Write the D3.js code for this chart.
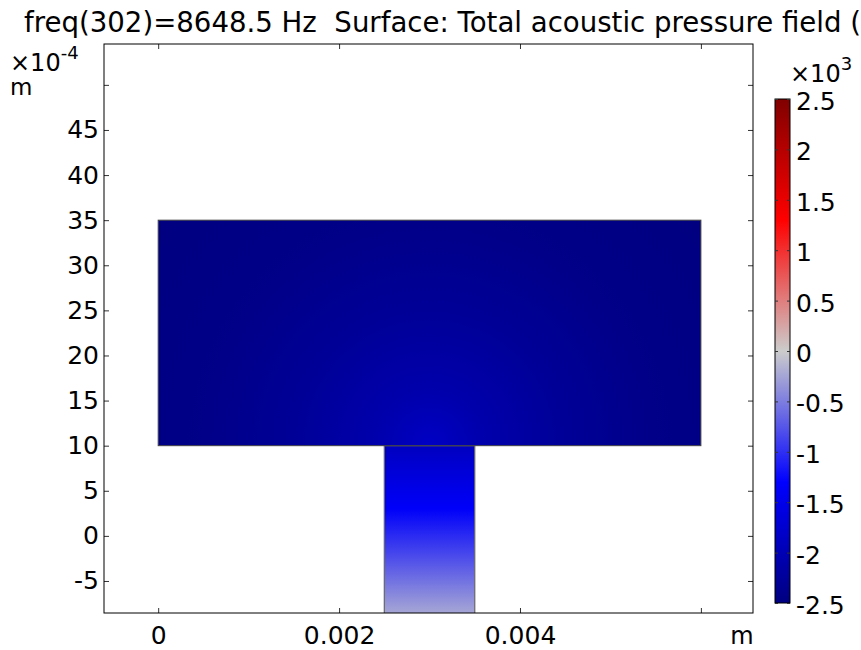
<!DOCTYPE html>
<html>
<head>
<meta charset="utf-8">
<script src="https://cdn.jsdelivr.net/npm/d3@7"></script>
<style>
  body { margin: 0; background: #fff; }
  text { font-family: "DejaVu Sans", sans-serif; fill: #000; }
</style>
</head>
<body>
<div id="canvas"></div>
<script>
// Titulo y ejes
const title = "freq(302)=8648.5 Hz  Surface: Total acoustic pressure field (Pa)";
const xTicks = [0, 0.002, 0.004, 0.006];
const xTickLabels = ["0", "0.002", "0.004", ""];
const yTicks = [-0.0005, 0, 0.0005, 0.001, 0.0015, 0.002, 0.0025, 0.003, 0.0035, 0.004, 0.0045, 0.005];
const yTickLabels = ["-5", "0", "5", "10", "15", "20", "25", "30", "35", "40", "45", ""];

// Geometria (m)
const cavity = { x0: 0, x1: 0.006, y0: 0.001, y1: 0.0035 };
const neck = { x0: 0.0025, x1: 0.0035, y0: -0.001, y1: 0.001 };

// Presion en el cuello (Pa x 1e3) leida por altura (m)
const neckY = [0.001, 0.0003, -0.00025, -0.00085];
const neckP = [-1.9, -1.35, -0.8, -0.25];

// Presion en la cavidad segun distancia (m) a la boca del cuello
const cavityR = [0, 0.0006, 0.0015, 0.0025, 0.004];
const cavityP = [-1.85, -2.08, -2.28, -2.42, -2.5];

// Escala de color (Wave)
const cmapVals = [-2.5, -1.3, 0, 1.3, 2.5];
const cmapColors = ["#000080", "#0000ff", "#cccccc", "#ff0000", "#800000"];
const cbarTicks = [-2.5, -2, -1.5, -1, -0.5, 0, 0.5, 1, 1.5, 2, 2.5];

const width = 861;
const height = 650;
const plot = { left: 104, right: 753, top: 44, bottom: 613 };

const svg = d3.select("#canvas").append("svg")
    .attr("width", width)
    .attr("height", height);

const x = d3.scaleLinear()
    .domain([-0.000599, 0.006576])
    .range([plot.left, plot.right]);

const y = d3.scaleLinear()
    .domain([-0.000855, 0.005453])
    .range([plot.bottom, plot.top]);

const color = d3.scaleLinear()
    .domain(cmapVals)
    .range(cmapColors);

const defs = svg.append("defs");

defs.append("clipPath").attr("id", "plotclip")
    .append("rect")
    .attr("x", plot.left).attr("y", plot.top)
    .attr("width", plot.right - plot.left)
    .attr("height", plot.bottom - plot.top);

// Gradiente del cuello
const ny0 = y(neckY[0]), ny1 = y(neckY[neckY.length - 1]);
const neckGrad = defs.append("linearGradient")
    .attr("id", "neckgrad")
    .attr("gradientUnits", "userSpaceOnUse")
    .attr("x1", 0).attr("x2", 0)
    .attr("y1", ny0).attr("y2", ny1);
neckGrad.selectAll("stop").data(neckY).enter().append("stop")
    .attr("offset", d => (y(d) - ny0) / (ny1 - ny0))
    .attr("stop-color", (d, i) => color(neckP[i]));

// Gradiente radial de la cavidad
const rPx = x(cavityR[cavityR.length - 1]) - x(0);
const cavGrad = defs.append("radialGradient")
    .attr("id", "cavgrad")
    .attr("gradientUnits", "userSpaceOnUse")
    .attr("cx", x(0.003)).attr("cy", y(0.001))
    .attr("fx", x(0.003)).attr("fy", y(0.001))
    .attr("r", rPx);
cavGrad.selectAll("stop").data(cavityR).enter().append("stop")
    .attr("offset", d => (x(d) - x(0)) / rPx)
    .attr("stop-color", (d, i) => color(cavityP[i]));

const field = svg.append("g").attr("clip-path", "url(#plotclip)");

field.append("rect")
    .attr("x", x(neck.x0)).attr("y", y(neck.y1))
    .attr("width", x(neck.x1) - x(neck.x0))
    .attr("height", y(neck.y0) - y(neck.y1))
    .attr("fill", "url(#neckgrad)")
    .attr("stroke", "#666")
    .attr("stroke-width", 1.2);

field.append("rect")
    .attr("x", x(cavity.x0)).attr("y", y(cavity.y1))
    .attr("width", x(cavity.x1) - x(cavity.x0))
    .attr("height", y(cavity.y0) - y(cavity.y1))
    .attr("fill", "url(#cavgrad)")
    .attr("stroke", "#444")
    .attr("stroke-width", 1);

// Ejes con marcas hacia dentro
const fontSize = "25px";

const xb = svg.append("g")
    .attr("transform", `translate(0, ${plot.bottom})`)
    .call(d3.axisBottom(x).tickValues(xTicks).tickSize(-5).tickSizeOuter(0)
        .tickPadding(13).tickFormat((d, i) => xTickLabels[i]));
svg.append("g")
    .attr("transform", `translate(0, ${plot.top})`)
    .call(d3.axisTop(x).tickValues(xTicks).tickSize(-5).tickSizeOuter(0).tickFormat(""));
svg.append("g")
    .attr("transform", `translate(${plot.left}, 0)`)
    .call(d3.axisLeft(y).tickValues(yTicks).tickSize(-5).tickSizeOuter(0)
        .tickPadding(5).tickFormat((d, i) => yTickLabels[i]));
svg.append("g")
    .attr("transform", `translate(${plot.right}, 0)`)
    .call(d3.axisRight(y).tickValues(yTicks).tickSize(-5).tickSizeOuter(0).tickFormat(""));

svg.selectAll(".domain").remove();
svg.selectAll(".tick line").attr("stroke", "#000");
svg.selectAll(".tick text")
    .style("font-size", fontSize)
    .style("font-family", "'DejaVu Sans', sans-serif");
xb.selectAll(".tick text").attr("dy", "0.71em");

svg.append("rect")
    .attr("x", plot.left).attr("y", plot.top)
    .attr("width", plot.right - plot.left)
    .attr("height", plot.bottom - plot.top)
    .attr("fill", "none")
    .attr("stroke", "#000")
    .attr("stroke-width", 1);

// Unidades
svg.append("text").attr("x", 742).attr("y", 644)
    .attr("text-anchor", "middle").style("font-size", "24px").text("m");
const exp = svg.append("text").attr("x", 10).attr("y", 71).style("font-size", "24px");
exp.append("tspan").text("\u00d710");
exp.append("tspan").attr("dy", -12).style("font-size", "18px").text("-4");
svg.append("text").attr("x", 10).attr("y", 95).style("font-size", "23px").text("m");

// Titulo (recortado en el borde derecho como en el original)
svg.append("text").attr("x", 24).attr("y", 32)
    .attr("xml:space", "preserve")
    .style("white-space", "pre")
    .style("font-size", "27.6px").text(title);

// Barra de color
const cbar = { x0: 775, x1: 790, top: 99, bottom: 603 };
const cy = d3.scaleLinear().domain([-2.5, 2.5]).range([cbar.bottom, cbar.top]);

const cbGrad = defs.append("linearGradient")
    .attr("id", "cbgrad")
    .attr("x1", 0).attr("x2", 0).attr("y1", 1).attr("y2", 0);
cbGrad.selectAll("stop").data(cmapVals).enter().append("stop")
    .attr("offset", d => (d + 2.5) / 5)
    .attr("stop-color", (d, i) => cmapColors[i]);

svg.append("rect")
    .attr("x", cbar.x0).attr("y", cbar.top)
    .attr("width", cbar.x1 - cbar.x0)
    .attr("height", cbar.bottom - cbar.top)
    .attr("fill", "url(#cbgrad)")
    .attr("stroke", "#000")
    .attr("stroke-width", 1);

const cbAxis = svg.append("g")
    .attr("transform", `translate(${cbar.x1}, 0)`)
    .call(d3.axisRight(cy).tickValues(cbarTicks).tickSize(-3).tickSizeOuter(0)
        .tickPadding(6).tickFormat(d3.format("")));
svg.append("g")
    .attr("transform", `translate(${cbar.x0}, 0)`)
    .call(d3.axisLeft(cy).tickValues(cbarTicks).tickSize(-3).tickSizeOuter(0).tickFormat(""));
svg.selectAll(".domain").remove();
cbAxis.selectAll(".tick text")
    .attr("dy", "0.42em")
    .style("font-size", fontSize)
    .style("font-family", "'DejaVu Sans', sans-serif")
    .text(d => String(d));
svg.selectAll(".tick line").attr("stroke", "#333");

const cexp = svg.append("text").attr("x", 790).attr("y", 82).style("font-size", "24px");
cexp.append("tspan").text("\u00d710");
cexp.append("tspan").attr("dy", -12).style("font-size", "18px").text("3");
</script>
</body>
</html>
